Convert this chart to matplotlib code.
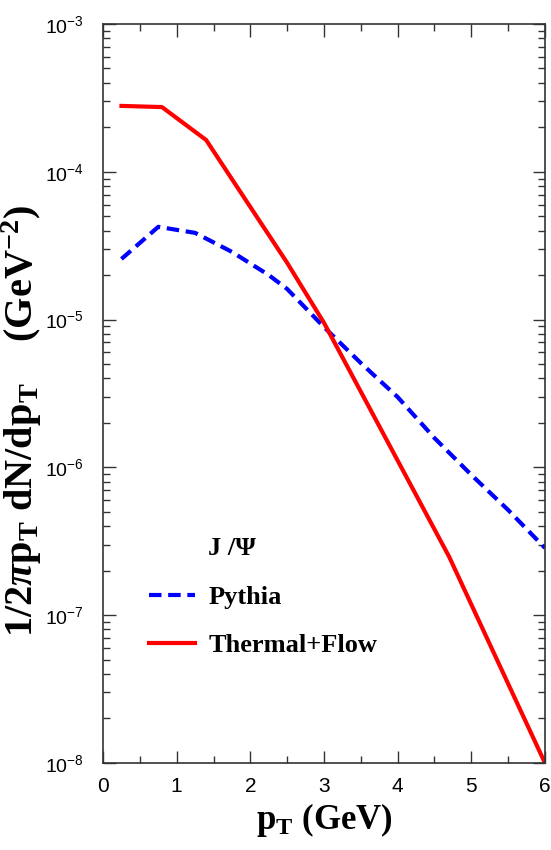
import math
import matplotlib
matplotlib.use("Agg")
import matplotlib.pyplot as plt
from matplotlib.ticker import FixedLocator, FuncFormatter, MultipleLocator, LogLocator, NullFormatter

# J/Psi spectra
pt_pythia = [0.25, 0.75, 1.25, 1.75, 2.25, 2.5, 3.0, 3.5, 4.0, 4.5, 5.0, 5.5, 6.0]
y_pythia = [2.57e-5, 4.24e-5, 3.86e-5, 2.87e-5, 2.0e-5, 1.61e-5, 8.9e-6,
            5.08e-6, 2.99e-6, 1.58e-6, 8.9e-7, 5.15e-7, 2.85e-7]

pt_thermal = [0.25, 0.8, 1.4, 2.5, 3.0, 4.7, 6.0]
y_thermal = [2.79e-4, 2.74e-4, 1.64e-4, 2.42e-5, 9.5e-6, 2.48e-7, 1.0e-8]

x_ticks = [0, 1, 2, 3, 4, 5, 6]
y_decades = [1e-8, 1e-7, 1e-6, 1e-5, 1e-4, 1e-3]

plt.rcParams['mathtext.fontset'] = 'custom'
plt.rcParams['mathtext.rm'] = 'Liberation Serif:bold'
plt.rcParams['mathtext.it'] = 'Liberation Serif:italic:bold'
plt.rcParams['mathtext.bf'] = 'Liberation Serif:bold'
plt.rcParams['mathtext.sf'] = 'Liberation Sans'
plt.rcParams['mathtext.default'] = 'rm'

sans = ['Liberation Sans']
serif = ['Liberation Serif']

fig = plt.figure(figsize=(5.51, 8.5), dpi=100)
ax = fig.add_axes([0.187, 0.1024, 0.802, 0.8694])

ax.plot(pt_pythia, y_pythia, color='#0000ff', lw=3, dashes=(3, 1.6), label='Pythia')
ax.plot(pt_thermal, y_thermal, color='#ff0000', lw=3, label='Thermal+Flow')
title_h, = ax.plot([], [], color='none', label='J /Ψ')

ax.set_yscale('log')
ax.set_xlim(0, 6)
ax.set_ylim(1e-8, 1e-3)

ax.xaxis.set_major_locator(FixedLocator(x_ticks))
ax.xaxis.set_minor_locator(MultipleLocator(0.5))
ax.yaxis.set_major_locator(FixedLocator(y_decades))
ax.yaxis.set_minor_locator(LogLocator(base=10, subs=range(2, 10)))
ax.yaxis.set_minor_formatter(NullFormatter())
ax.yaxis.set_major_formatter(FuncFormatter(lambda v, p: r'$\mathsf{10^{%d}}$' % round(math.log10(v))))

ax.tick_params(which='both', direction='in', top=True, right=True, width=1, color='#333333')
ax.tick_params(which='major', length=9)
ax.tick_params(which='minor', length=5)
ax.tick_params(axis='x', labelsize=15, pad=10)
ax.tick_params(axis='y', labelsize=14, pad=14)
for lab in ax.get_xticklabels() + ax.get_yticklabels():
    lab.set_family(sans)
for s in ax.spines.values():
    s.set_linewidth(1.2)
    s.set_color('#333333')

ax.set_xlabel(r'$\mathrm{p_T\ (GeV)}$', fontsize=25, labelpad=4)
ax.set_ylabel(r'$\mathrm{1/2}\mathit{\pi}\mathrm{p_T\ dN/dp_T\ \ \ \ (GeV^{-2})}$', fontsize=29)
ax.yaxis.set_label_coords(-0.133, 0.463)

leg = ax.legend(handles=[title_h, ax.lines[0], ax.lines[1]],
                labels=['J /Ψ', 'Pythia', 'Thermal+Flow'],
                loc='upper left', bbox_to_anchor=(0.05, 0.338), frameon=False,
                handlelength=1.75, handletextpad=0.5, labelspacing=0.95,
                prop={'family': serif, 'weight': 'bold', 'size': 19})

fig.savefig('out.png', dpi=100)
